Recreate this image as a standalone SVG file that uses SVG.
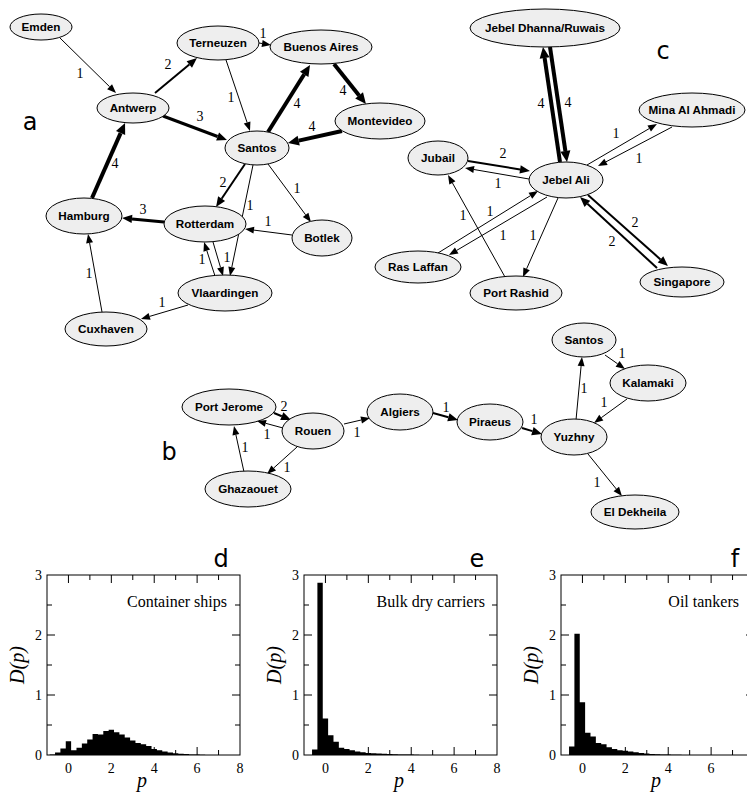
<svg xmlns="http://www.w3.org/2000/svg" xmlns:xlink="http://www.w3.org/1999/xlink" width="747" height="793" viewBox="0 0 747 793">
<style>
.n ellipse{fill:#eeeeee;stroke:#000;stroke-width:1}
.n text{font-family:"Liberation Sans",Arial,sans-serif;font-weight:bold;font-size:11.7px;text-anchor:middle;fill:#000}
#edges line{stroke:#000;fill:none}
.w1{stroke-width:1;marker-end:url(#a1)}
.w2{stroke-width:2;marker-end:url(#a2)}
.w3{stroke-width:3;marker-end:url(#a2)}
.w4{stroke-width:4;marker-end:url(#a4)}
.lbl{font-family:"Liberation Serif","Times New Roman",serif;font-size:14px;text-anchor:middle;fill:#000}
.pl{font-family:"DejaVu Sans",sans-serif;font-size:24px;text-anchor:middle;fill:#000}
.tk{font-family:"Liberation Serif","Times New Roman",serif;font-size:14px;fill:#000}
.ann{font-family:"Liberation Serif","Times New Roman",serif;font-size:16px;text-anchor:end;fill:#000}
.it{font-family:"Liberation Serif","Times New Roman",serif;font-style:italic;font-size:20px;text-anchor:middle;fill:#000}
.ax{fill:none;stroke:#000;stroke-width:1}
</style>
<defs>
<marker id="a1" viewBox="0 -6 12 12" markerWidth="12" markerHeight="12" refX="0" refY="0" orient="auto" markerUnits="userSpaceOnUse" overflow="visible"><path d="M0,-3.5L9,0L0,3.5Z" fill="#000"/></marker>
<marker id="a2" viewBox="0 -6 12 12" markerWidth="12" markerHeight="12" refX="0" refY="0" orient="auto" markerUnits="userSpaceOnUse" overflow="visible"><path d="M0,-4.2L10,0L0,4.2Z" fill="#000"/></marker>
<marker id="a4" viewBox="0 -6 12 12" markerWidth="12" markerHeight="12" refX="0" refY="0" orient="auto" markerUnits="userSpaceOnUse" overflow="visible"><path d="M0,-5L11,0L0,5Z" fill="#000"/></marker>
<g id="axes">
<rect class="ax" x="0" y="0" width="193" height="180"/>
<path class="ax" d="M21.44,180v-8M64.33,180v-8M107.22,180v-8M150.11,180v-8M42.89,180v-5M85.78,180v-5M128.67,180v-5M171.56,180v-5M21.44,0v8M64.33,0v8M107.22,0v8M150.11,0v8M42.89,0v5M85.78,0v5M128.67,0v5M171.56,0v5M0,120h8M0,60h8M0,150h5M0,90h5M0,30h5M193,120h-8M193,60h-8M193,150h-5M193,90h-5M193,30h-5"/>
<text class="tk" x="-5" y="185" text-anchor="end">0</text>
<text class="tk" x="-5" y="125" text-anchor="end">1</text>
<text class="tk" x="-5" y="65" text-anchor="end">2</text>
<text class="tk" x="-5" y="5" text-anchor="end">3</text>
<text class="tk" x="21.44" y="198" text-anchor="middle">0</text>
<text class="tk" x="64.33" y="198" text-anchor="middle">2</text>
<text class="tk" x="107.22" y="198" text-anchor="middle">4</text>
<text class="tk" x="150.11" y="198" text-anchor="middle">6</text>
<text class="it" x="95" y="212">p</text>
<text class="it" transform="translate(-23,90) rotate(-90)">D(p)</text>
</g>
</defs>

<!-- panel letters -->
<text class="pl" x="30" y="130">a</text>
<text class="pl" x="663" y="59" font-size="22">c</text>
<text class="pl" x="169" y="460">b</text>

<g id="edges">
<!-- panel a -->
<line class="w1" x1="60" y1="38" x2="109.6" y2="86.7"/>
<line class="w2" x1="155" y1="93" x2="189.3" y2="64.4"/>
<line class="w3" x1="163" y1="116" x2="217.6" y2="136.5"/>
<line class="w4" x1="92" y1="198" x2="120.6" y2="133.1"/>
<line class="w1" x1="259" y1="43" x2="262.1" y2="43.5"/>
<line class="w1" x1="226" y1="60" x2="247.1" y2="122.5"/>
<line class="w4" x1="268" y1="132" x2="304.2" y2="74.3"/>
<line class="w4" x1="334" y1="64" x2="359.1" y2="95.4"/>
<line class="w4" x1="342" y1="131" x2="298.7" y2="140.6"/>
<line class="w2" x1="245" y1="164" x2="221.6" y2="198.7"/>
<line class="w1" x1="253" y1="165" x2="231.8" y2="267.2"/>
<line class="w1" x1="268" y1="164" x2="305.6" y2="214.8"/>
<line class="w1" x1="292" y1="235" x2="253.9" y2="230.1"/>
<line class="w3" x1="164" y1="222" x2="132" y2="218.9"/>
<line class="w1" x1="215" y1="276" x2="206.8" y2="250.6"/>
<line class="w1" x1="213" y1="242" x2="220.5" y2="267.4"/>
<line class="w1" x1="188" y1="305" x2="149.6" y2="316.4"/>
<line class="w1" x1="102" y1="312" x2="89.6" y2="242.9"/>
<!-- panel c -->
<line class="w4" x1="560" y1="162" x2="544.6" y2="57.9"/>
<line class="w4" x1="550" y1="47" x2="565.4" y2="151.1"/>
<line class="w1" x1="587" y1="165" x2="649.2" y2="128.6"/>
<line class="w1" x1="672" y1="127" x2="606" y2="161.8"/>
<line class="w2" x1="468" y1="161" x2="520.1" y2="169.4"/>
<line class="w1" x1="529" y1="179" x2="473.9" y2="169.5"/>
<line class="w1" x1="438" y1="253" x2="530.4" y2="195.7"/>
<line class="w1" x1="547" y1="197" x2="456.7" y2="250.4"/>
<line class="w1" x1="505" y1="277" x2="452.4" y2="182.9"/>
<line class="w1" x1="558" y1="198" x2="526.6" y2="268.8"/>
<line class="w2" x1="588" y1="195" x2="660.5" y2="259.4"/>
<line class="w2" x1="657" y1="268" x2="587.4" y2="203.8"/>
<!-- panel b -->
<line class="w2" x1="274" y1="413" x2="281.8" y2="416.2"/>
<line class="w1" x1="283" y1="428" x2="265.7" y2="423.3"/>
<line class="w1" x1="344" y1="424" x2="361.2" y2="420"/>
<line class="w1" x1="297" y1="447" x2="273.7" y2="468"/>
<line class="w1" x1="244" y1="472" x2="235.9" y2="434.8"/>
<line class="w2" x1="433" y1="413" x2="448.4" y2="417.3"/>
<line class="w2" x1="522" y1="428" x2="532.4" y2="431.1"/>
<line class="w1" x1="576" y1="420" x2="581.1" y2="366"/>
<line class="w1" x1="605" y1="355" x2="617.6" y2="363.8"/>
<line class="w1" x1="627" y1="399" x2="601.3" y2="417.7"/>
<line class="w1" x1="588" y1="454" x2="616.3" y2="489"/>
</g>

<g id="edge-labels">
<text class="lbl" x="80" y="78">1</text>
<text class="lbl" x="168" y="69">2</text>
<text class="lbl" x="200" y="121">3</text>
<text class="lbl" x="115" y="168">4</text>
<text class="lbl" x="263" y="38">1</text>
<text class="lbl" x="231" y="102">1</text>
<text class="lbl" x="297" y="108">4</text>
<text class="lbl" x="343" y="95">4</text>
<text class="lbl" x="312" y="131">4</text>
<text class="lbl" x="223" y="187">2</text>
<text class="lbl" x="250" y="210">1</text>
<text class="lbl" x="297" y="193">1</text>
<text class="lbl" x="268" y="226">1</text>
<text class="lbl" x="143" y="214">3</text>
<text class="lbl" x="202" y="264">1</text>
<text class="lbl" x="227" y="262">1</text>
<text class="lbl" x="162" y="307">1</text>
<text class="lbl" x="89" y="278">1</text>
<text class="lbl" x="541" y="108">4</text>
<text class="lbl" x="568" y="107">4</text>
<text class="lbl" x="616" y="138">1</text>
<text class="lbl" x="639" y="163">1</text>
<text class="lbl" x="503" y="158">2</text>
<text class="lbl" x="498" y="188">1</text>
<text class="lbl" x="490" y="216">1</text>
<text class="lbl" x="503" y="240">1</text>
<text class="lbl" x="463" y="220">1</text>
<text class="lbl" x="533" y="240">1</text>
<text class="lbl" x="635" y="227">2</text>
<text class="lbl" x="612" y="246">2</text>
<text class="lbl" x="284" y="411">2</text>
<text class="lbl" x="267" y="439">1</text>
<text class="lbl" x="357" y="437">1</text>
<text class="lbl" x="287" y="472">1</text>
<text class="lbl" x="245" y="452">1</text>
<text class="lbl" x="446" y="412">1</text>
<text class="lbl" x="534" y="424">1</text>
<text class="lbl" x="584" y="393">1</text>
<text class="lbl" x="622" y="358">1</text>
<text class="lbl" x="604" y="407">1</text>
<text class="lbl" x="597" y="487">1</text>
</g>

<!-- panel a nodes -->
<g id="emden" class="n"><ellipse cx="41" cy="27" rx="31" ry="13"/><text x="41" y="31">Emden</text></g>
<g id="antwerp" class="n"><ellipse cx="133" cy="108" rx="36" ry="15"/><text x="133" y="112">Antwerp</text></g>
<g id="terneuzen" class="n"><ellipse cx="218" cy="43" rx="41" ry="17"/><text x="218" y="47">Terneuzen</text></g>
<g id="buenos-aires" class="n"><ellipse cx="321" cy="47" rx="51" ry="17"/><text x="321" y="51">Buenos Aires</text></g>
<g id="montevideo" class="n"><ellipse cx="380" cy="121" rx="45" ry="18"/><text x="380" y="125">Montevideo</text></g>
<g id="santos-a" class="n"><ellipse cx="257" cy="148" rx="32" ry="17"/><text x="257" y="152">Santos</text></g>
<g id="hamburg" class="n"><ellipse cx="84" cy="216" rx="38" ry="18"/><text x="84" y="220">Hamburg</text></g>
<g id="rotterdam" class="n"><ellipse cx="205" cy="224" rx="41" ry="18"/><text x="205" y="228">Rotterdam</text></g>
<g id="botlek" class="n"><ellipse cx="322" cy="238" rx="30" ry="18"/><text x="322" y="242">Botlek</text></g>
<g id="vlaardingen" class="n"><ellipse cx="225" cy="293" rx="47" ry="18"/><text x="225" y="297">Vlaardingen</text></g>
<g id="cuxhaven" class="n"><ellipse cx="106" cy="329" rx="41" ry="17"/><text x="106" y="333">Cuxhaven</text></g>
<!-- panel c nodes -->
<g id="jebel-dhanna" class="n"><ellipse cx="545" cy="28" rx="75" ry="19"/><text x="545" y="32">Jebel Dhanna/Ruwais</text></g>
<g id="mina-al-ahmadi" class="n"><ellipse cx="692" cy="110" rx="53" ry="17"/><text x="692" y="114">Mina Al Ahmadi</text></g>
<g id="jubail" class="n"><ellipse cx="438" cy="158" rx="30" ry="17"/><text x="438" y="162">Jubail</text></g>
<g id="jebel-ali" class="n"><ellipse cx="566" cy="180" rx="37" ry="18"/><text x="566" y="184">Jebel Ali</text></g>
<g id="ras-laffan" class="n"><ellipse cx="418" cy="267" rx="43" ry="16"/><text x="418" y="271">Ras Laffan</text></g>
<g id="port-rashid" class="n"><ellipse cx="516" cy="293" rx="46" ry="17"/><text x="516" y="297">Port Rashid</text></g>
<g id="singapore" class="n"><ellipse cx="682" cy="282" rx="42" ry="15"/><text x="682" y="286">Singapore</text></g>
<!-- panel b nodes -->
<g id="port-jerome" class="n"><ellipse cx="229" cy="407" rx="47" ry="18"/><text x="229" y="411">Port Jerome</text></g>
<g id="rouen" class="n"><ellipse cx="313" cy="431" rx="31" ry="18"/><text x="313" y="435">Rouen</text></g>
<g id="algiers" class="n"><ellipse cx="400" cy="412" rx="33" ry="18"/><text x="400" y="416">Algiers</text></g>
<g id="ghazaouet" class="n"><ellipse cx="248" cy="489" rx="43" ry="18"/><text x="248" y="493">Ghazaouet</text></g>
<g id="piraeus" class="n"><ellipse cx="490" cy="422" rx="33" ry="18"/><text x="490" y="426">Piraeus</text></g>
<g id="yuzhny" class="n"><ellipse cx="574" cy="437" rx="33" ry="18"/><text x="574" y="441">Yuzhny</text></g>
<g id="santos-b" class="n"><ellipse cx="584" cy="340" rx="32" ry="17"/><text x="584" y="344">Santos</text></g>
<g id="kalamaki" class="n"><ellipse cx="648" cy="383" rx="38" ry="18"/><text x="648" y="387">Kalamaki</text></g>
<g id="el-dekheila" class="n"><ellipse cx="635" cy="512" rx="44" ry="17"/><text x="635" y="516">El Dekheila</text></g>

<!-- histograms -->
<g id="hist-d">
<path fill="#000" d="M49.68,755V754.4H55.04V752.6H60.40V748.4H65.76V741.2H71.12V750.2H76.49V747.8H81.85V743.6H87.21V739.4H92.57V734H97.93V734.6H103.29V731H108.65V729.8H114.01V732.2H119.37V734.6H124.73V737.6H130.10V740.6H135.46V743H140.82V744.2H146.18V746H151.54V749H156.90V750.2H162.26V751.4H167.62V752.6H172.98V753.2H178.34V753.8H183.71V754.1H189.07V754.4H194.43V754.6H199.79V754.8H205.15V755Z"/>
<use xlink:href="#axes" href="#axes" transform="translate(47,575)"/>
<text class="tk" x="240" y="773" text-anchor="middle">8</text>
<text class="ann" x="227" y="607">Container ships</text>
<text class="pl" x="221" y="567" font-size="22">d</text>
</g>
<g id="hist-e">
<path fill="#000" d="M312.04,755V749.6H317.40V582.8H322.76V718.4H328.12V735.2H333.49V741.8H338.85V747.8H344.21V749H349.57V750.2H354.93V751.4H360.29V752.3H365.65V752.9H371.01V753.2H376.37V753.5H381.73V753.8H387.10V754.1H392.46V754.3H397.82V754.4H403.18V754.5H408.54V754.6H413.90V754.8H419.26V755Z"/>
<use xlink:href="#axes" href="#axes" transform="translate(304,575)"/>
<text class="tk" x="497" y="773" text-anchor="middle">8</text>
<text class="ann" x="485" y="607">Bulk dry carriers</text>
<text class="pl" x="477" y="567" font-size="22">e</text>
</g>
<g id="hist-f">
<path fill="#000" d="M569.04,755V746.6H574.40V633.8H579.76V702.2H585.12V732.8H590.49V736.4H595.85V743H601.21V744.2H606.57V747.2H611.93V749H617.29V750.2H622.65V750.8H628.01V751.4H633.37V752.3H638.73V752.9H644.10V753.5H649.46V753.9H654.82V754.3H660.18V754.4H665.54V754.6H670.90V754.7H676.26V754.8H681.62V755Z"/>
<use xlink:href="#axes" href="#axes" transform="translate(561,575)"/>
<text class="ann" x="739" y="607">Oil tankers</text>
<text class="pl" x="735" y="567" font-size="22">f</text>
</g>
</svg>
